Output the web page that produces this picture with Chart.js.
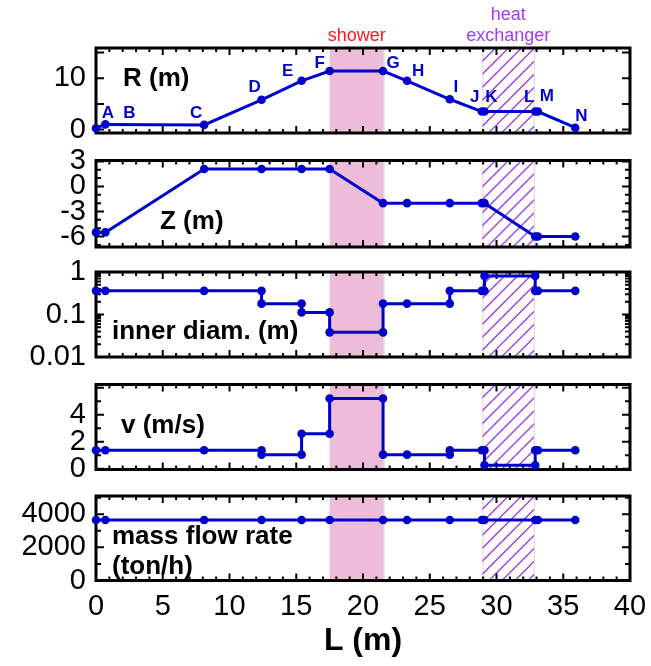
<!DOCTYPE html>
<html><head><meta charset="utf-8">
<script src="https://cdn.jsdelivr.net/npm/chart.js@4/dist/chart.umd.min.js"></script>
<style>
html,body{margin:0;padding:0;background:#fff;}
#wrap{position:relative;width:651px;height:666px;overflow:hidden;background:#fff;}
#wrap canvas{position:absolute;left:0;top:0;}
</style></head><body>
<div id="wrap">
<canvas id="c1" width="651" height="666"></canvas>
<canvas id="c2" width="651" height="666"></canvas>
<canvas id="c3" width="651" height="666"></canvas>
<canvas id="c4" width="651" height="666"></canvas>
<canvas id="c5" width="651" height="666"></canvas>
</div>
<script>
// ---------------- data ----------------
const stationNames = ['A','B','C','D','E','F','G','H','I','J','K','L','M','N'];
const stationL     = [0, 0.7, 8.1, 12.4, 15.4, 17.5, 21.5, 23.3, 26.5, 28.9, 29.1, 32.9, 33.1, 35.9];
const radiusR      = [0.25, 1.0, 0.9, 5.8, 9.5, 11.4, 11.4, 9.5, 5.9, 3.5, 3.5, 3.5, 3.5, 0.35];
const heightZ      = [-5.5, -5.5, 2.1, 2.1, 2.1, 2.1, -2.0, -2.0, -2.0, -2.0, -2.0, -6.0, -6.0, -6.0];
const diamL        = [0, 0.7, 8.1, 12.4, 12.4, 15.4, 15.4, 17.5, 17.5, 21.5, 21.5, 23.3, 26.5, 26.5, 28.9, 29.1, 29.1, 32.9, 32.9, 33.1, 35.9];
const innerDiam    = [0.36, 0.36, 0.36, 0.36, 0.18, 0.18, 0.112, 0.112, 0.038, 0.038, 0.18, 0.18, 0.18, 0.36, 0.36, 0.36, 0.81, 0.81, 0.36, 0.36, 0.36];
const velL         = [0, 0.7, 8.1, 12.4, 12.4, 15.4, 15.4, 17.5, 17.5, 21.5, 21.5, 23.3, 26.5, 26.5, 28.9, 29.1, 29.1, 32.9, 32.9, 33.1, 35.9];
const velocity     = [1.37, 1.37, 1.37, 1.37, 1.05, 1.05, 2.6, 2.6, 5.2, 5.2, 1.05, 1.05, 1.05, 1.37, 1.37, 1.37, 0.26, 0.26, 1.37, 1.37, 1.37];
const massFlow     = [3650, 3650, 3650, 3650, 3650, 3650, 3650, 3650, 3650, 3650, 3650, 3650, 3650, 3650];

const xTickLabels = [0, 5, 10, 15, 20, 25, 30, 35, 40];
const rTickLabels = [0, 10];
const zTickLabels = [-6, -3, 0, 3];
const dTickLabels = [0.01, 0.1, 1];
const vTickLabels = [0, 2, 4];
const mTickLabels = [0, 2000, 4000];

const showerRange = [17.5, 21.55];
const heatExRange = [28.95, 32.8];

// ---------------- style / layout ----------------
const BLUE = '#0000cc';
const FONT = "'Liberation Sans', Arial, Helvetica, sans-serif";
// pixel offsets of the station letters from their points
const letterOffsets = [[12,-15],[24,-11],[-8,-12],[-7,-12],[-14,-9],[-10,-8],[10,-8],[11,-9],[6,-12],[-7,-14],[7,-14],[-6,-14],[9,-15],[6,-11]];

function range(a, b, s){ const r=[]; for(let v=a; v<=b+1e-9; v+=s) r.push(+v.toFixed(6)); return r; }
const xMajor = range(0, 40, 5);
const xMinor = range(0, 40, 1);

const decor = {
  id: 'decor',
  beforeDatasetsDraw(chart, args, o) {
    const {ctx, chartArea: a, scales: {x, y}} = chart;
    const H = a.bottom - a.top;
    ctx.save();
    // shower band
    const s0 = x.getPixelForValue(showerRange[0]), s1 = x.getPixelForValue(showerRange[1]);
    ctx.fillStyle = '#ecbcd8';
    ctx.fillRect(s0, a.top, s1 - s0, H);
    ctx.strokeStyle = '#dcdcdc'; ctx.lineWidth = 1;
    ctx.beginPath(); ctx.moveTo(s1 + 0.5, a.top); ctx.lineTo(s1 + 0.5, a.bottom); ctx.stroke();
    // heat exchanger hatch
    const h0 = x.getPixelForValue(heatExRange[0]), h1 = x.getPixelForValue(heatExRange[1]);
    ctx.strokeStyle = '#d8d8d8'; ctx.lineWidth = 1;
    ctx.beginPath();
    ctx.moveTo(h0 + 0.5, a.top); ctx.lineTo(h0 + 0.5, a.bottom);
    ctx.moveTo(h1 + 0.5, a.top); ctx.lineTo(h1 + 0.5, a.bottom);
    ctx.stroke();
    ctx.save();
    ctx.beginPath(); ctx.rect(h0, a.top, h1 - h0, H); ctx.clip();
    ctx.strokeStyle = '#a33cf0'; ctx.lineWidth = 1.3;
    ctx.beginPath();
    for (let k = h0 - H; k < h1 + H; k += 13) { ctx.moveTo(k, a.bottom); ctx.lineTo(k + H, a.top); }
    ctx.stroke();
    ctx.restore();
    // ticks
    ctx.strokeStyle = '#000'; ctx.lineWidth = 2;
    ctx.beginPath();
    xMinor.forEach(v => {
      const px = x.getPixelForValue(v);
      const len = xMajor.includes(v) ? 7 : 4;
      ctx.moveTo(px, a.top); ctx.lineTo(px, a.top + len);
      ctx.moveTo(px, a.bottom); ctx.lineTo(px, a.bottom - len);
    });
    o.yMinor.forEach(v => {
      const py = y.getPixelForValue(v);
      const len = o.yMajor.includes(v) ? 8 : 5;
      ctx.moveTo(a.left, py); ctx.lineTo(a.left + len, py);
      ctx.moveTo(a.right, py); ctx.lineTo(a.right - len, py);
    });
    ctx.stroke();
    // frame
    ctx.lineWidth = 3;
    ctx.strokeRect(a.left, a.top, a.right - a.left, H);
    ctx.restore();
  },
  afterDatasetsDraw(chart, args, o) {
    const {ctx, chartArea: a, scales: {x, y}} = chart;
    ctx.save();
    ctx.fillStyle = '#000';
    ctx.font = 'bold 26px ' + FONT;
    ctx.textAlign = 'left'; ctx.textBaseline = 'middle';
    o.labels.forEach(l => ctx.fillText(l.text, a.left + l.dx, a.top + l.dy));
    if (o.letters) {
      ctx.fillStyle = BLUE; ctx.font = 'bold 17px ' + FONT; ctx.textAlign = 'center';
      stationNames.forEach((n, i) => {
        const px = x.getPixelForValue(stationL[i]), py = y.getPixelForValue(radiusR[i]);
        ctx.fillText(n, px + letterOffsets[i][0], py + letterOffsets[i][1]);
      });
      ctx.font = '18px ' + FONT;
      ctx.fillStyle = '#ff1a1a';
      ctx.fillText('shower', x.getPixelForValue((showerRange[0] + showerRange[1]) / 2), a.top - 12);
      ctx.fillStyle = '#a33cf0';
      const hc = x.getPixelForValue((heatExRange[0] + heatExRange[1]) / 2);
      ctx.fillText('heat', hc, a.top - 33);
      ctx.fillText('exchanger', hc, a.top - 12);
    }
    ctx.restore();
  }
};

function panel(id, p) {
  const showX = !!p.showX;
  const yScale = {
    type: p.log ? 'logarithmic' : 'linear',
    min: p.min, max: p.max,
    grid: {display: false, drawTicks: false},
    border: {display: false},
    ticks: {font: {family: FONT, size: 29}, color: '#000', padding: 10, autoSkip: false,
            callback: v => String(v)},
    afterBuildTicks: s => { s.ticks = p.tickLabels.map(v => ({value: v})); },
    afterFit: s => { s.width = 96; s.paddingTop = 0; s.paddingBottom = 0; }
  };
  const xScale = {
    type: 'linear', min: 0, max: 40, display: showX,
    grid: {display: false, drawTicks: false},
    border: {display: false},
    ticks: {font: {family: FONT, size: 29}, color: '#000', padding: 9, autoSkip: false, maxRotation: 0},
    afterBuildTicks: s => { s.ticks = xTickLabels.map(v => ({value: v})); },
    title: {display: showX, text: 'L (m)', color: '#000', font: {family: FONT, size: 32, weight: 'bold'}, padding: {top: 0, bottom: 0}},
    afterFit: s => { if (showX) s.height = 80; s.paddingLeft = 0; s.paddingRight = 0; }
  };
  new Chart(document.getElementById(id), {
    type: 'line',
    data: {datasets: [{
      data: p.xs.map((xv, i) => ({x: xv, y: p.ys[i]})),
      borderColor: BLUE, backgroundColor: BLUE, borderWidth: 3,
      pointRadius: 4.3, pointBackgroundColor: BLUE, pointBorderWidth: 0,
      tension: 0, fill: false, clip: false
    }]},
    options: {
      responsive: false, animation: false, devicePixelRatio: 1,
      layout: {padding: {left: 0, right: 21, top: p.top, bottom: showX ? 666 - p.bottom - 80 : 666 - p.bottom}},
      scales: {x: xScale, y: yScale},
      plugins: {legend: {display: false}, tooltip: {enabled: false},
        decor: {yMajor: p.yMajor, yMinor: p.yMinor, labels: p.labels, letters: !!p.letters}}
    },
    plugins: [decor]
  });
}

const logMinor = [];
[0.01, 0.1].forEach(d => { for (let k = 1; k <= 10; k++) logMinor.push(+(d * k).toFixed(4)); });

panel('c1', {top: 48, bottom: 133, xs: stationL, ys: radiusR, min: -0.68, max: 15.9,
  tickLabels: rTickLabels, yMajor: [0, 5, 10, 15], yMinor: [0, 5, 10, 15],
  labels: [{text: 'R (m)', dx: 27, dy: 31}], letters: true});
panel('c2', {top: 160.5, bottom: 247, xs: stationL, ys: heightZ, min: -7.25, max: 3.11,
  tickLabels: zTickLabels, yMajor: [-6, -3, 0, 3], yMinor: range(-7, 3, 1),
  labels: [{text: 'Z (m)', dx: 64, dy: 61}]});
panel('c3', {top: 272, bottom: 357, xs: diamL, ys: innerDiam, log: true, min: 0.01, max: 1,
  tickLabels: dTickLabels, yMajor: [0.01, 0.1, 1], yMinor: logMinor,
  labels: [{text: 'inner diam. (m)', dx: 16, dy: 60}]});
panel('c4', {top: 384.5, bottom: 469.5, xs: velL, ys: velocity, min: -0.05, max: 6.24,
  tickLabels: vTickLabels, yMajor: [0, 2, 4, 6], yMinor: range(0, 6, 1),
  labels: [{text: 'v (m/s)', dx: 25, dy: 41}]});
panel('c5', {top: 496, bottom: 580.5, xs: stationL, ys: massFlow, min: 0, max: 5100, showX: true,
  tickLabels: mTickLabels, yMajor: [0, 2000, 4000], yMinor: range(0, 5000, 1000),
  labels: [{text: 'mass flow rate', dx: 16, dy: 41}, {text: '(ton/h)', dx: 16, dy: 71}]});
</script>
</body></html>
